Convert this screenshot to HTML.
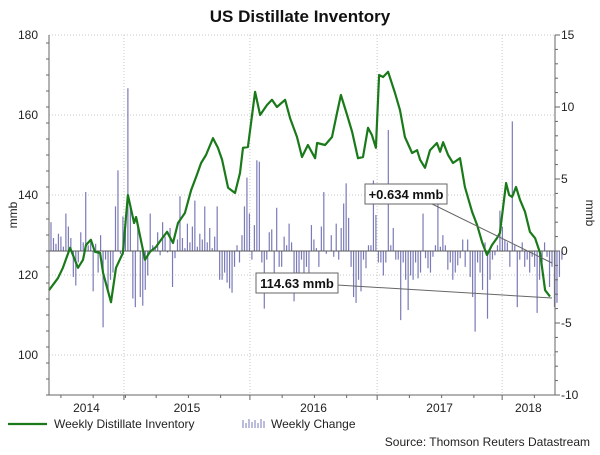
<!DOCTYPE html>
<html><head><meta charset="utf-8"><style>
body{margin:0;background:#fff;width:600px;height:450px;overflow:hidden}
svg{font-family:"Liberation Sans",Arial,sans-serif}
</style></head><body>
<svg id="chart" width="600" height="450" xmlns="http://www.w3.org/2000/svg">
<text x="300" y="22" text-anchor="middle" font-size="17" font-weight="bold" fill="#111">US Distillate Inventory</text>
<g id="grid"></g><g id="bars"></g><g id="line"></g><g id="axes"></g>
<g>
<line x1="428" y1="202" x2="552" y2="263" stroke="#666" stroke-width="1"/>
<rect x="365" y="184" width="82" height="20" fill="#fff" stroke="#666"/>
<text x="406" y="199" text-anchor="middle" font-size="13" font-weight="bold" fill="#111">+0.634 mmb</text>
</g>
<g>
<line x1="337" y1="285" x2="552" y2="298" stroke="#666" stroke-width="1"/>
<rect x="256" y="273" width="82" height="20" fill="#fff" stroke="#666"/>
<text x="297" y="288" text-anchor="middle" font-size="13" font-weight="bold" fill="#111">114.63 mmb</text>
</g>
<g>
<line x1="8" y1="424" x2="47" y2="424" stroke="#1a7a1a" stroke-width="2.2"/>
<text x="54" y="428" font-size="12" fill="#222">Weekly Distillate Inventory</text>
<g stroke="#7a7ab8" stroke-width="1">
<line x1="243" y1="428" x2="243" y2="420"/><line x1="246" y1="428" x2="246" y2="423"/><line x1="249" y1="428" x2="249" y2="419"/><line x1="252" y1="428" x2="252" y2="422"/><line x1="255" y1="428" x2="255" y2="420"/><line x1="258" y1="428" x2="258" y2="423"/><line x1="261" y1="428" x2="261" y2="419"/><line x1="264" y1="428" x2="264" y2="421"/></g>
<text x="271" y="428" font-size="12" fill="#222">Weekly Change</text>
</g>
<text x="590" y="446" text-anchor="end" font-size="12" fill="#222">Source: Thomson Reuters Datastream</text>
</svg>
<script>
const lineWeeks=[-0.8,2.8,4.8,7.7,10.9,12.9,14.1,16.1,17.7,19.8,21.0,24.2,26.2,29.0,31.0,33.5,34.3,37.9,39.9,42.3,45.2,46.8,49.2,51.2,54.0,56.5,58.5,60.5,62.5,65.3,67.3,69.0,71.4,74.2,76.2,77.4,79.4,82.3,84.3,87.1,89.1,91.1,94.4,96.4,99.2,101.2,103.6,106.5,107.3,110.5,113.3,115.3,116.9,119.4,121.4,123.8,125.8,127.8,129.4,131.0,132.3,133.9,135.9,138.7,140.7,142.7,145.6,147.6,148.8,150.8,152.8,155.6,156.9,158.1,160.1,162.1,164.9,166.9,169.8,171.8,173.8,175.8,177.8,179.8,181.0,183.5,184.7,185.9,187.5,189.1,191.1,193.1,195.2,197.2,199.2,201.2];
const inventory=[116.2,119.2,121.8,126.8,121.8,123.8,127.5,128.8,125.8,125.5,120.5,113.2,121.8,125.5,140,133,134.5,123.8,125.8,127,129.5,130.8,128,133,135.5,141.2,144.5,148,150,154.2,151.8,148.8,141.8,140.5,145.5,151.8,152,165.8,160,162.5,163.8,162,163.8,159.2,154.5,149.5,152.5,149.2,153,152.5,154.5,160.5,165,160,155.8,149.2,149.5,156.8,155,151.8,170,169.5,170.8,165.5,161.2,154.5,150.5,151.2,148.8,146.8,151.2,153,150.8,153.2,150,148,149.2,142,135.8,132.5,128.2,125,127.5,129.2,130.5,143,140,139.5,142,138.8,135.8,130.8,129.2,125.5,116.2,114.6];
const weeklyChange=[2.0,0.9,0.5,1.2,1.0,0.3,2.6,1.7,0.9,-1.8,-2.4,-0.8,1.3,0.6,4.1,0.4,0.6,-2.8,0.5,-1.5,1.1,-5.3,-0.6,-2.7,-2.0,-1.5,3.1,5.6,-0.2,2.4,1.9,11.3,3.0,-3.3,-3.9,1.9,-3.2,-3.8,-2.7,-1.7,2.6,0.4,0.2,1.3,-0.3,2.0,1.0,-0.1,1.6,-2.5,-0.5,0.8,3.8,0.9,0.2,1.9,0.6,1.7,3.5,0.3,1.2,0.8,3.1,0.6,1.6,0.2,1.0,3.1,-2.0,
-2.0,-1.5,-2.2,-2.6,-2.9,-1.1,0.4,-0.8,1.1,3.1,5.1,2.6,-0.6,1.8,6.3,6.2,-0.8,-4.0,-0.6,1.3,1.5,-2.9,3.0,-1.1,-1.1,1.0,0.4,1.9,0.6,-3.5,-1.8,-1.5,-0.6,-1.7,-1.1,-2.0,1.8,0.8,0.2,-1.1,1.7,4.1,-0.2,0,1.1,-0.4,1.9,-0.6,1.6,3.3,4.7,2.3,-1.1,-3.2,-3.6,-2.0,-2.8,-0.6,-1.2,0.4,0.4,4.9,2.5,-0.8,-0.8,-1.7,-0.8,8.4,0.4,
1.6,-0.6,-0.6,-4.8,-0.8,-2.0,-4.1,-1.7,-2.0,-0.8,-1.9,-1.5,2.6,-0.5,-1.2,-1.5,-0.4,0.4,3.3,0.3,1.1,0.4,-1.3,-0.8,-2.0,-1.5,-1.0,-0.5,0.8,-1.1,0.8,-1.8,-3.2,-5.6,-0.8,-1.5,-2.7,0.6,-4.7,-2.0,-0.6,-0.3,0.4,2.8,1.7,0.8,0.6,-1.1,9.0,0.4,-3.9,-0.6,0.6,-1.1,-0.6,-1.5,-0.4,-1.1,-4.3,-2.0,-0.8,0.6,-0.4,-2.5,-1.1,-3.9,-3.6,-1.8,-0.6];
const yearLabels=["2014","2015","2016","2017","2018"];
const yearStartWeeks=[-9,29.4,80.2,131.5,181.9,203];
const leftTicks=[100,120,140,160,180];
const rightTicks=[-10,-5,0,5,10,15];

const NS="http://www.w3.org/2000/svg";
const X0=49,X1=555,Y0=35,Y1=395;
const xs=w=>51+w*(552-51)/202;
const yl=v=>Y1-(v-90)*(Y1-Y0)/90;
const yr=v=>Y1-(v+10)*(Y1-Y0)/25;
function mk(p,t,a){const e=document.createElementNS(NS,t);for(const k in a)e.setAttribute(k,a[k]);p.appendChild(e);return e;}
const grid=document.getElementById('grid'),bars=document.getElementById('bars'),line=document.getElementById('line'),axes=document.getElementById('axes');
leftTicks.forEach(v=>{const g=mk(grid,'line',{x1:X0,x2:X1,y1:yl(v),y2:yl(v),stroke:'#c8c8c8','stroke-dasharray':'1,2'});

});
yearStartWeeks.slice(1,5).forEach(w=>{const g=mk(grid,'line',{x1:xs(w),x2:xs(w),y1:Y0,y2:Y1,stroke:'#c8c8c8','stroke-dasharray':'1,2'});

});
weeklyChange.forEach((v,i)=>{const x=xs(i);const b=mk(bars,'line',{x1:x,x2:x,y1:yr(0),y2:yr(v),stroke:'#7a7ab8','stroke-width':1.2});

});
const zl=mk(bars,'line',{x1:X0,x2:X1,y1:yr(0),y2:yr(0),stroke:'#555','stroke-width':1});


const pts=lineWeeks.map((w,i)=>Math.max(X0,xs(w)).toFixed(1)+','+yl(inventory[i]).toFixed(1)).join(' ');
const pl=mk(line,'polyline',{points:pts,fill:'none',stroke:'#1a7a1a','stroke-width':2.2,'stroke-linejoin':'round'});


// axes
mk(axes,'line',{x1:X0,x2:X0,y1:Y0,y2:Y1,stroke:'#666'});
mk(axes,'line',{x1:X1,x2:X1,y1:Y0,y2:Y1,stroke:'#666'});
mk(axes,'line',{x1:X0,x2:X1,y1:Y1,y2:Y1,stroke:'#666'});
for(let v=90;v<=180;v+=4){mk(axes,'line',{x1:X0-(v%20==0?5:3),x2:X0,y1:yl(v),y2:yl(v),stroke:'#666'});}
for(let v=-10;v<=15;v++){mk(axes,'line',{x1:X1,x2:X1+(v%5==0?5:3),y1:yr(v),y2:yr(v),stroke:'#666'});}
leftTicks.forEach(v=>{const t=mk(axes,'text',{x:38,y:yl(v)+4,'text-anchor':'end','font-size':12,fill:'#222'});t.textContent=v;

});
rightTicks.forEach(v=>{const t=mk(axes,'text',{x:561,y:yr(v)+4,'font-size':12,fill:'#222'});t.textContent=v;

});
for(let i=0;i<5;i++){const a=Math.max(yearStartWeeks[i],-1),b=yearStartWeeks[i+1];
const xa=Math.max(X0,xs(yearStartWeeks[i])),xb=Math.min(X1,xs(b));
const t=mk(axes,'text',{x:(xa+xb)/2,y:412,'text-anchor':'middle','font-size':12,fill:'#222'});t.textContent=yearLabels[i];


if(i>0)mk(axes,'line',{x1:xs(yearStartWeeks[i]),x2:xs(yearStartWeeks[i]),y1:Y1,y2:Y1+5,stroke:'#666'});
for(let q=1;q<4;q++){const xq=xs(yearStartWeeks[i]+q*13);if(xq>X0&&xq<X1)mk(axes,'line',{x1:xq,x2:xq,y1:Y1,y2:Y1+3,stroke:'#666'});}}
const l1=mk(axes,'text',{x:0,y:0,'font-size':12,fill:'#222','text-anchor':'middle',transform:'translate(17,215) rotate(-90)'});l1.textContent='mmb';


const l2=mk(axes,'text',{x:0,y:0,'font-size':12,fill:'#222','text-anchor':'middle',transform:'translate(586,213) rotate(90)'});l2.textContent='mmb';


</script>
</body></html>
